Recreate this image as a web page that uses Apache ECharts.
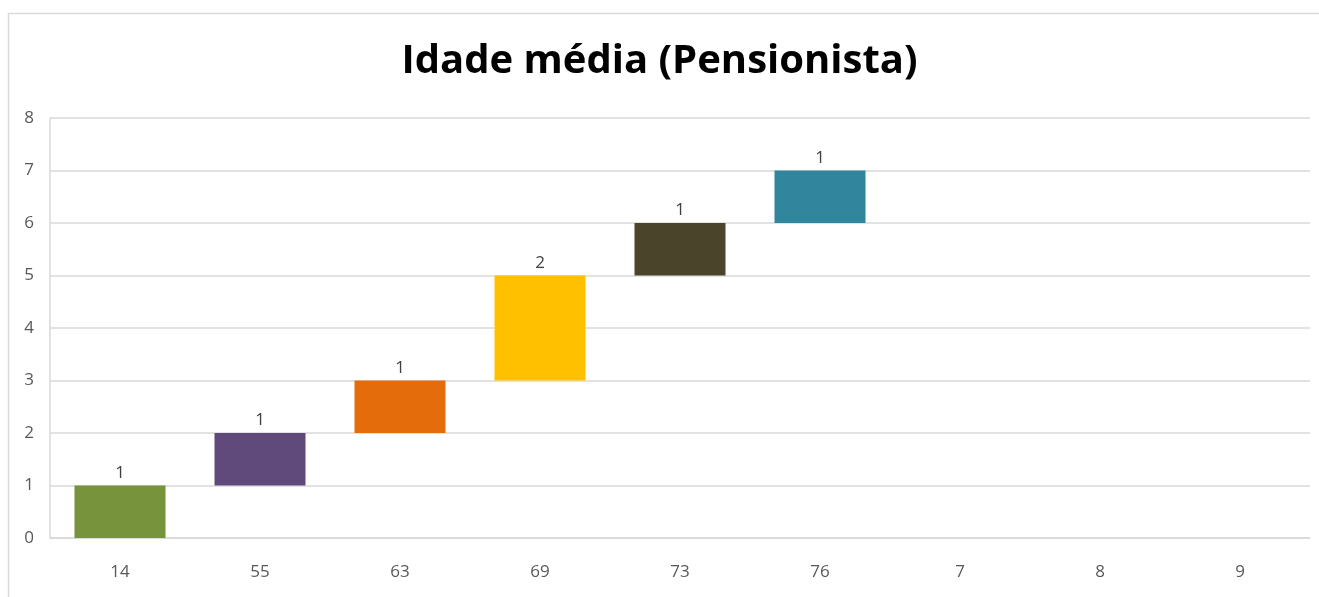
<!DOCTYPE html>
<html>
<head>
<meta charset="utf-8">
<style>
	html, body { margin: 0; padding: 0; background: #fff; }
	#chart { width: 1319px; height: 597px; }
</style>
<script src="https://cdn.jsdelivr.net/npm/echarts@6/dist/echarts.min.js"></script>
</head>
<body>
<div id="chart"></div>
<script>
	// dados do gráfico
	var categories = ['14', '55', '63', '69', '73', '76', '7', '8', '9'];
	var baseValues = [0, 1, 2, 3, 5, 6, null, null, null];   // início de cada barra
	var countValues = [1, 1, 1, 2, 1, 1, null, null, null];  // quantidade
	var yTicks = [0, 1, 2, 3, 4, 5, 6, 7, 8];

	var barColors = ['#77933C', '#604A7B', '#E46C0A', '#FFC000', '#4A452A', '#31859C'];

	var chart = echarts.init(document.getElementById('chart'));
	var option = {
		animation: false,
		backgroundColor: '#fff',
		title: {
			text: 'Idade média (Pensionista)',
			left: 'center',
			top: 37,
			textStyle: {
				fontFamily: 'Open Sans',
				fontWeight: 'bold',
				fontSize: 40,
				color: '#000'
			}
		},
		graphic: [{
			type: 'rect',
			shape: { x: 8.5, y: 13.5, width: 1330, height: 620 },
			style: { fill: 'none', stroke: '#d9d9d9', lineWidth: 1.5 },
			silent: true
		}],
		grid: {
			left: 50,
			right: 9,
			top: 118,
			bottom: 59
		},
		xAxis: {
			type: 'category',
			data: categories,
			axisLine: { show: true, lineStyle: { color: '#d9d9d9', width: 1.5 } },
			axisTick: { show: false },
			axisLabel: {
				color: '#595959',
				fontFamily: 'Open Sans',
				fontSize: 17,
				margin: 26
			}
		},
		yAxis: {
			type: 'value',
			min: yTicks[0],
			max: yTicks[yTicks.length - 1],
			interval: 1,
			axisLine: { show: true, lineStyle: { color: '#d9d9d9', width: 1.5 } },
			axisTick: { show: false },
			axisLabel: {
				color: '#595959',
				fontFamily: 'Open Sans',
				fontSize: 17,
				margin: 16
			},
			splitLine: { lineStyle: { color: '#d9d9d9', width: 1.5 } }
		},
		series: [{
			name: 'base',
			type: 'bar',
			stack: 'total',
			barCategoryGap: '35%',
			itemStyle: { color: 'transparent' },
			silent: true,
			data: baseValues
		}, {
			name: 'Quantidade',
			type: 'bar',
			stack: 'total',
			barCategoryGap: '35%',
			label: {
				show: true,
				position: 'top',
				distance: 4,
				color: '#404040',
				fontFamily: 'Open Sans',
				fontSize: 17
			},
			data: countValues.map(function (v, i) {
				return {
					value: v,
					itemStyle: { color: barColors[i % barColors.length] }
				};
			})
		}]
	};
	chart.setOption(option);
</script>
</body>
</html>
